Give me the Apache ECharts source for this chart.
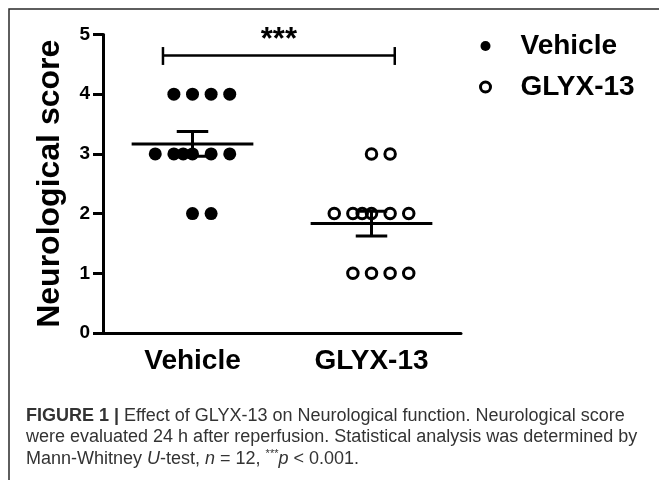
<!DOCTYPE html>
<html lang="en">
<head>
    <meta charset="UTF-8">
    <title>Neurological score</title>
    <style>
        html,body{
            width: 100%;
            height: 100%;
            margin: 0;
            padding: 0;
            background: #fff;
        }
        #chart{
            width: 659px;
            height: 480px;
        }
    </style>
</head>
<body>
    <div id="chart"></div>
    <script src="https://cdn.jsdelivr.net/npm/echarts@6/dist/echarts.min.js"></script>
    <script>
        // data
        var categories = ['Vehicle', 'GLYX-13'];
        var vehicleScores = [4, 4, 4, 4, 3, 3, 3, 3, 3, 3, 2, 2];
        var vehicleSpread = [-1, 0, 1, 2, -2, -1, -0.5, 0, 1, 2, 0, 1];   // horizontal scatter slot of each point
        var glyxScores = [3, 3, 2, 2, 2, 2, 2, 2, 1, 1, 1, 1];
        var glyxSpread = [0, 1, -2, -1, -0.5, 0, 1, 2, -1, 0, 1, 2];
        var yTicks = [0, 1, 2, 3, 4, 5];

        var FONT = '"Liberation Sans", Arial, Helvetica, sans-serif';
        var SLOT = 0.104;   // width of one scatter slot, in x units

        function toPoints(scores, spread, groupIndex) {
            return scores.map(function (v, i) {
                return [groupIndex + 0.5 + spread[i] * SLOT, v];
            });
        }

        function meanSem(scores) {
            var n = scores.length;
            var m = scores.reduce(function (a, b) { return a + b; }, 0) / n;
            var ss = scores.reduce(function (a, b) { return a + (b - m) * (b - m); }, 0);
            var sd = Math.sqrt(ss / (n - 1));
            return [m, sd / Math.sqrt(n)];
        }

        var stats = [vehicleScores, glyxScores].map(function (s, i) {
            var r = meanSem(s);
            return [i + 0.5, r[0], r[1]];
        });

        function renderStats(params, api) {
            var cx = api.value(0), m = api.value(1), s = api.value(2);
            var a = api.coord([cx - 0.34, m]);
            var b = api.coord([cx + 0.34, m]);
            var top = api.coord([cx, m + s]);
            var bot = api.coord([cx, m - s]);
            var cap = api.size([0.088, 0])[0];
            var st = { stroke: '#000', lineWidth: 3 };
            return {
                type: 'group',
                children: [
                    { type: 'line', shape: { x1: a[0], y1: a[1], x2: b[0], y2: b[1] }, style: st },
                    { type: 'line', shape: { x1: top[0], y1: top[1], x2: bot[0], y2: bot[1] }, style: st },
                    { type: 'line', shape: { x1: top[0] - cap, y1: top[1], x2: top[0] + cap, y2: top[1] }, style: st },
                    { type: 'line', shape: { x1: bot[0] - cap, y1: bot[1], x2: bot[0] + cap, y2: bot[1] }, style: st }
                ]
            };
        }

        // significance bracket between the two groups
        function renderBracket(params, api) {
            var x0 = api.value(0), x1 = api.value(1), y = api.value(2);
            var p0 = api.coord([x0, y]);
            var p1 = api.coord([x1, y]);
            var t0 = api.coord([x0, y + 0.14]);
            var b0 = api.coord([x0, y - 0.16]);
            var mid = api.coord([(x0 + x1) / 2, y + 0.25]);
            var st = { stroke: '#000', lineWidth: 2.5 };
            return {
                type: 'group',
                children: [
                    { type: 'line', shape: { x1: p0[0], y1: p0[1], x2: p1[0], y2: p1[1] }, style: st },
                    { type: 'line', shape: { x1: p0[0], y1: t0[1], x2: p0[0], y2: b0[1] }, style: st },
                    { type: 'line', shape: { x1: p1[0], y1: t0[1], x2: p1[0], y2: b0[1] }, style: st },
                    {
                        type: 'text',
                        style: {
                            x: mid[0], y: mid[1], text: '***',
                            font: 'bold 31px ' + FONT, fill: '#000',
                            align: 'center', verticalAlign: 'middle'
                        }
                    }
                ]
            };
        }

        var myChart = echarts.init(document.getElementById('chart'));
        var option = {
            animation: false,
            backgroundColor: '#fff',
            textStyle: { fontFamily: FONT },
            grid: { left: 103, top: 34.5, width: 358, height: 298.5 },
            legend: {
                orient: 'vertical',
                left: 479,
                top: 31,
                padding: 0,
                itemGap: 11,
                itemWidth: 60,
                itemHeight: 10,
                selectedMode: false,
                textStyle: { fontSize: 28, fontWeight: 'bold', color: '#000', lineHeight: 30, fontFamily: FONT },
                data: [
                    { name: 'Vehicle', icon: 'circle', itemStyle: { color: '#000', borderWidth: 0, opacity: 1 } },
                    { name: 'GLYX-13', icon: 'circle', itemStyle: { color: 'rgba(0,0,0,0)', borderColor: '#000', borderWidth: 3, opacity: 1 } }
                ]
            },
            xAxis: [{
                type: 'category',
                data: categories,
                boundaryGap: true,
                axisLine: { lineStyle: { color: '#000', width: 3 } },
                axisTick: { alignWithLabel: true, length: 10, lineStyle: { color: '#000', width: 3 } },
                axisLabel: { color: '#000', fontSize: 28, fontWeight: 'bold', margin: 14, fontFamily: FONT },
                splitLine: { show: false }
            }, {
                type: 'value',
                min: 0,
                max: 2,
                show: false
            }],
            yAxis: {
                type: 'value',
                min: yTicks[0],
                max: yTicks[yTicks.length - 1],
                interval: 1,
                name: 'Neurological score',
                nameLocation: 'middle',
                nameRotate: 90,
                nameGap: 37,
                nameTextStyle: { color: '#000', fontSize: 32, fontWeight: 'bold', fontFamily: FONT },
                axisLine: { show: true, lineStyle: { color: '#000', width: 3 } },
                axisTick: { show: true, length: 10, lineStyle: { color: '#000', width: 3 } },
                axisLabel: { color: '#000', fontSize: 19, fontWeight: 'bold', margin: 13, fontFamily: FONT },
                splitLine: { show: false }
            },
            series: [
                {
                    name: 'Vehicle',
                    type: 'scatter',
                    xAxisIndex: 1,
                    symbol: 'circle',
                    symbolSize: 13,
                    itemStyle: { color: '#000', opacity: 1 },
                    emphasis: { disabled: true },
                    data: toPoints(vehicleScores, vehicleSpread, 0)
                },
                {
                    name: 'GLYX-13',
                    type: 'scatter',
                    xAxisIndex: 1,
                    symbol: 'circle',
                    symbolSize: 10.5,
                    itemStyle: { color: 'rgba(0,0,0,0)', borderColor: '#000', borderWidth: 3, opacity: 1 },
                    emphasis: { disabled: true },
                    data: toPoints(glyxScores, glyxSpread, 1)
                },
                {
                    type: 'custom',
                    xAxisIndex: 1,
                    renderItem: renderStats,
                    clip: false,
                    z: 5,
                    data: stats
                },
                {
                    type: 'custom',
                    xAxisIndex: 1,
                    renderItem: renderBracket,
                    clip: false,
                    z: 5,
                    data: [[0.335, 1.63, 4.65]]
                }
            ],
            graphic: [
                {
                    type: 'rect',
                    shape: { x: 9, y: 9, width: 700, height: 520 },
                    style: { fill: 'none', stroke: '#2a2a2a', lineWidth: 1.5 },
                    silent: true
                },
                {
                    type: 'text',
                    x: 26,
                    y: 405,
                    silent: true,
                    style: {
                        text: '{b|FIGURE 1 |} Effect of GLYX-13 on Neurological function. Neurological score\n' +
                              'were evaluated 24 h after reperfusion. Statistical analysis was determined by\n' +
                              'Mann-Whitney {i|U}-test, {i|n} = 12, {s|***}{i|p} < 0.001.',
                        font: '18px ' + FONT,
                        fill: '#333',
                        lineHeight: 21.5,
                        rich: {
                            b: { fontWeight: 'bold', fontSize: 18, fill: '#333', lineHeight: 21.5 },
                            i: { fontStyle: 'italic', fontSize: 18, fill: '#333', lineHeight: 21.5 },
                            s: { fontSize: 11, fill: '#333', lineHeight: 21.5, verticalAlign: 'top' }
                        }
                    }
                }
            ]
        };
        myChart.setOption(option);
    </script>
</body>
</html>
